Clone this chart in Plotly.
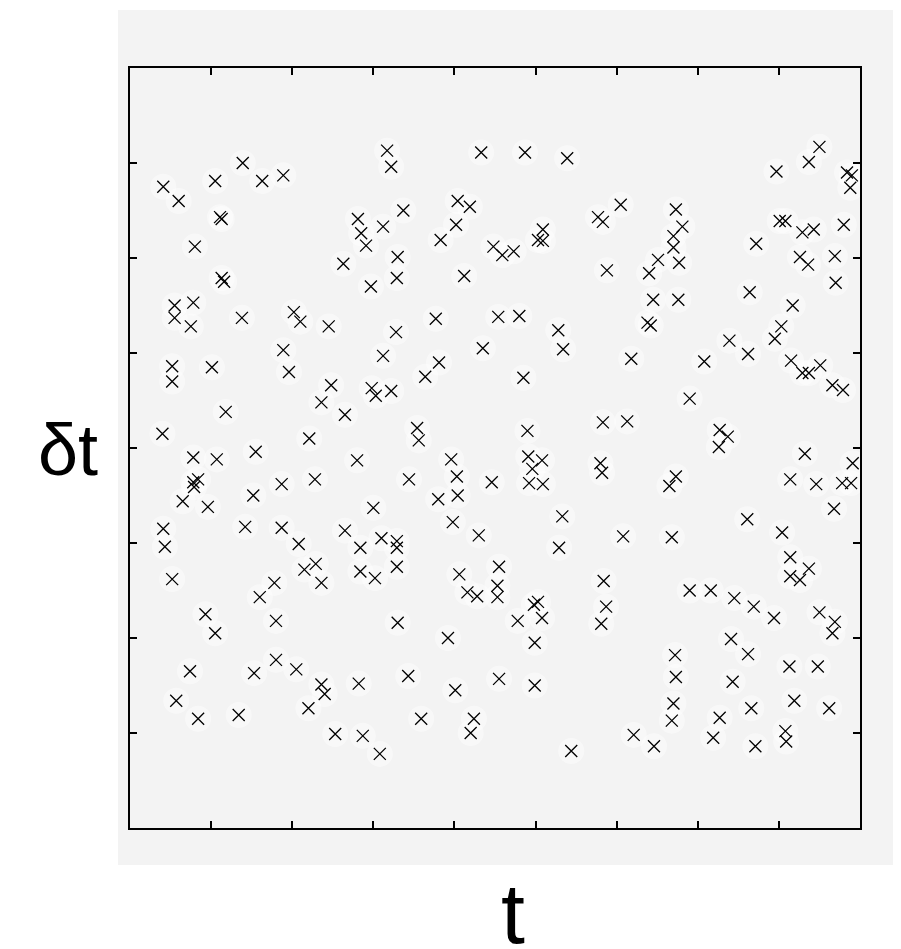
import plotly.graph_objects as go

# t positions (axis 0..90, ticks every 10)
t_vals = [
    4.1, 6.0, 10.5, 13.9, 16.3, 18.9, 11.1, 11.3, 8.0, 28.1, 28.5, 29.1, 26.3, 31.7, 32.2,
    43.3, 48.7, 53.9, 40.4, 41.9, 40.2, 33.7, 31.2, 38.3, 44.8, 45.9, 47.3, 50.9, 50.3, 50.9,
    57.7, 58.3, 33.0, 85.0, 83.7, 79.7, 88.4, 89.0, 88.8, 60.5, 67.3, 68.1, 67.0, 67.0, 65.1,
    67.7, 77.2, 80.1, 80.8, 82.9, 84.3, 88.0, 82.6, 86.9, 83.6,
    11.3, 11.6, 29.7, 5.5, 5.5, 7.8, 7.5, 13.8, 20.2, 21.0, 24.5, 18.9, 19.6, 5.2, 5.2,
    10.1, 24.8, 23.6, 26.5, 11.8, 4.0, 22.1, 29.8, 30.3, 32.2, 32.9, 41.2, 58.8, 37.7, 45.4,
    48.0, 52.8, 53.4, 32.8, 43.5, 31.2, 38.1, 36.4, 48.5, 35.4, 35.6, 49.0, 58.3, 64.0, 87.0,
    64.5, 67.6, 63.8, 64.2, 76.4, 81.7, 80.3, 79.5, 73.9, 76.2, 70.8, 61.8, 81.5, 82.9, 83.7,
    85.1, 86.6, 87.9, 69.0, 61.3, 72.7, 73.7, 72.6,
    7.8, 10.7, 15.5, 28.0, 7.8, 8.4, 7.9, 6.5, 9.6, 15.2, 18.7, 22.8, 30.0, 4.1, 4.3,
    5.2, 14.2, 18.7, 20.8, 21.5, 22.9, 23.6, 26.5, 28.4, 28.4, 30.2, 17.8, 16.0, 9.3, 10.5,
    18.0, 39.6, 34.4, 40.3, 40.4, 38.0, 44.6, 49.1, 50.8, 49.6, 49.2, 50.9, 58.0, 58.2, 39.8,
    53.3, 43.0, 52.9, 31.0, 32.9, 32.9, 32.9, 40.6, 41.6, 42.8, 45.5, 45.3, 45.3, 47.8, 49.8,
    50.3, 50.8, 58.4, 58.7, 58.1, 33.0, 39.2, 49.9, 83.2, 89.1, 66.5, 67.3, 81.4, 84.6, 87.8,
    88.9, 86.8, 76.1, 80.4, 60.8, 66.8, 81.4, 81.4, 82.6, 83.7, 69.0, 71.6, 74.5, 76.9, 79.4,
    85.0, 86.9, 86.6, 74.1,
    7.4, 5.7, 8.4, 13.4, 15.3, 18.0, 20.5, 23.6, 24.0, 22.0, 28.2, 25.3, 28.7, 34.3, 40.1,
    45.5, 49.9, 35.9, 42.4, 42.0, 30.8, 54.4, 67.2, 67.3, 67.0, 66.8, 62.1, 64.6, 76.2, 74.3,
    72.7, 71.9, 76.6, 77.1, 81.3, 84.8, 81.9, 86.2, 80.8, 80.9,
]

# delta t values (axis 0..80, ticks every 10)
dt_vals = [
    67.5, 66.0, 68.1, 70.0, 68.1, 68.7, 64.3, 64.1, 61.2, 64.1, 62.6, 61.3, 59.4, 71.3, 69.6,
    71.1, 71.1, 70.5, 66.0, 65.4, 63.5, 65.0, 63.3, 61.9, 61.2, 60.3, 60.7, 63.0, 61.9, 61.8,
    64.3, 63.8, 60.1, 71.7, 70.1, 69.1, 69.0, 68.7, 67.4, 65.6, 65.1, 63.3, 62.3, 61.1, 59.8,
    59.5, 61.5, 63.9, 63.9, 62.7, 63.0, 63.5, 60.1, 60.2, 59.3,
    57.9, 57.5, 57.0, 55.0, 53.7, 55.3, 52.8, 53.7, 54.3, 53.3, 52.8, 50.3, 48.0, 48.6, 47.0,
    48.5, 46.6, 44.8, 43.5, 43.8, 41.5, 41.0, 46.3, 45.5, 46.0, 57.9, 58.1, 58.7, 53.6, 53.8,
    53.9, 52.4, 50.4, 52.2, 50.5, 49.7, 49.0, 47.5, 47.4, 42.1, 40.8, 41.8, 42.7, 58.4, 57.4,
    55.6, 55.6, 53.2, 52.9, 56.4, 55.0, 52.8, 51.5, 51.3, 49.9, 49.1, 49.4, 49.2, 47.9, 47.9,
    48.7, 46.6, 46.1, 45.2, 42.8, 41.9, 41.2, 40.1,
    39.0, 38.8, 39.6, 38.7, 36.4, 36.7, 35.9, 34.4, 33.8, 35.0, 36.2, 36.7, 33.7, 31.5, 29.6,
    26.2, 31.7, 31.6, 29.9, 27.2, 27.8, 25.8, 31.3, 29.5, 27.0, 26.3, 25.8, 24.3, 22.5, 20.5,
    21.8, 38.8, 36.7, 37.0, 35.0, 34.6, 36.4, 39.1, 38.7, 37.8, 36.3, 36.2, 38.4, 37.4, 32.2,
    32.8, 30.8, 29.5, 30.5, 30.2, 29.5, 27.5, 26.7, 24.8, 24.4, 27.5, 25.5, 24.3, 21.8, 23.5,
    23.8, 22.1, 26.0, 23.3, 21.5, 21.6, 20.0, 19.5, 39.4, 38.4, 36.0, 37.0, 36.7, 36.2, 36.3,
    36.3, 33.6, 32.5, 31.1, 30.7, 30.6, 28.5, 26.5, 26.1, 27.3, 25.0, 25.0, 24.2, 23.3, 22.1,
    22.7, 21.7, 20.5, 19.9,
    16.5, 13.4, 11.5, 11.9, 16.3, 17.7, 16.7, 15.1, 14.1, 12.6, 15.2, 9.9, 9.7, 16.0, 14.5,
    15.7, 15.0, 11.5, 11.5, 10.0, 7.8, 8.1, 18.2, 15.9, 13.1, 11.3, 9.8, 8.6, 18.3, 15.4,
    11.6, 9.5, 12.6, 8.6, 17.0, 17.0, 13.4, 12.6, 10.2, 9.1,
]

t_ticks = [10, 20, 30, 40, 50, 60, 70, 80]
dt_ticks = [10, 20, 30, 40, 50, 60, 70]

fig = go.Figure()

# soft white glow behind each cross
fig.add_trace(go.Scatter(
    x=t_vals, y=dt_vals, mode='markers', hoverinfo='skip',
    marker=dict(symbol='circle', size=26, color='white', opacity=0.45,
                line=dict(width=0)),
))
fig.add_trace(go.Scatter(
    x=t_vals, y=dt_vals, mode='markers',
    marker=dict(symbol='x-thin', size=12, color='black',
                line=dict(width=1.3, color='black')),
))

axis_style = dict(
    showgrid=False, zeroline=False, showticklabels=False,
    ticks='inside', ticklen=7, tickwidth=1.5, tickcolor='black',
    showline=True, linecolor='black', linewidth=1.5, mirror='ticks',
)
fig.update_xaxes(range=[0, 90], tickvals=t_ticks, **axis_style)
fig.update_yaxes(range=[0, 80], tickvals=dt_ticks, **axis_style)

# light grey panel behind the whole plot
fig.add_shape(type='rect', xref='paper', yref='paper',
              x0=-0.0164, x1=1.0548, y0=-0.0487, y1=1.0763,
              fillcolor='#f3f3f3', line=dict(width=0), layer='below')

fig.add_annotation(text='δt', xref='paper', yref='paper', x=-0.0855, y=0.497,
                   xanchor='center', yanchor='middle', showarrow=False,
                   font=dict(size=72, color='black', family='Liberation Sans, Arial'))
fig.add_annotation(text='t', xref='paper', yref='paper', x=0.525, y=-0.112,
                   xanchor='center', yanchor='middle', showarrow=False,
                   font=dict(size=86, color='black', family='Liberation Sans, Arial'))

# page body adds an 8px offset, so the figure is 8px smaller than the window
fig.update_layout(
    width=893, height=941,
    margin=dict(l=122, r=41, t=60, b=121),
    plot_bgcolor='#f7f7f7', paper_bgcolor='white',
    showlegend=False,
)

fig.write_html("out.html")
